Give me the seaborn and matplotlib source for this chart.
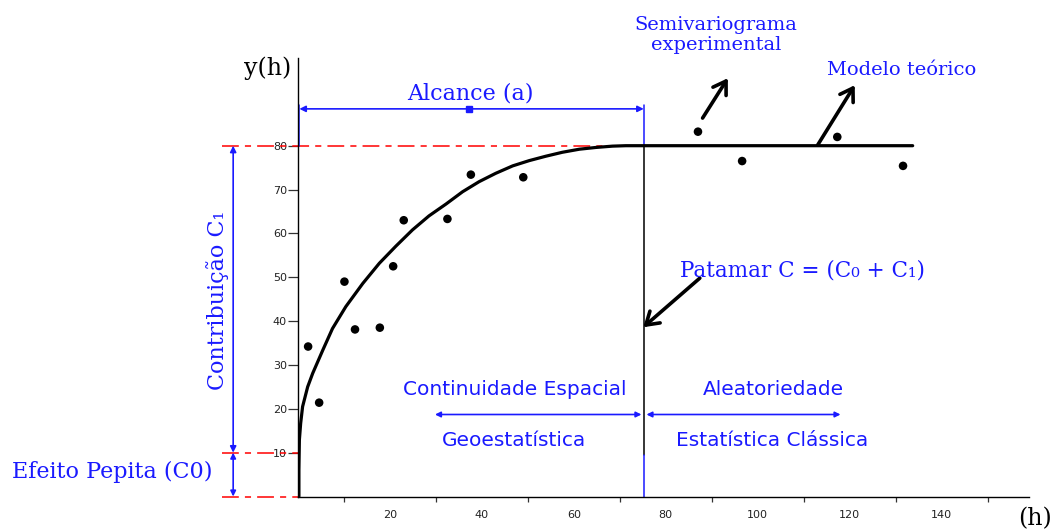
import matplotlib
matplotlib.use("Agg")
import matplotlib.pyplot as plt
import seaborn as sns
import pandas as pd

# Experimental semivariogram (lag h, semivariance)
lag_h = [2.2, 4.6, 10.1, 12.4, 17.8, 20.7, 23.0, 32.5, 37.6, 49.0, 87.0, 96.6, 117.3, 131.6]
gamma_h = [34.2, 21.4, 49.0, 38.1, 38.5, 52.5, 63.0, 63.3, 73.4, 72.8, 83.2, 76.5, 82.0, 75.4]

# Fitted theoretical model, traced as (h, gamma) pairs
model_h = [0.2, 0.2, 0.3, 0.58, 1.0, 2.1, 3.2, 5.4, 7.5, 10.4, 14.1, 17.7, 21.3, 24.9,
           28.5, 32.2, 35.8, 39.4, 43.0, 46.7, 50.3, 53.9, 57.5, 61.2, 64.8, 68.4,
           71.3, 75.2, 133.7]
model_gamma = [0.0, 6.0, 12.9, 16.7, 20.5, 25.0, 28.1, 33.4, 38.3, 43.3, 48.6, 53.2, 57.1, 60.8,
               64.0, 66.7, 69.5, 71.8, 73.7, 75.4, 76.6, 77.6, 78.5, 79.2, 79.6, 79.9,
               80.0, 80.0, 80.0]

# Model parameters
nugget_c0 = 10
sill_c = 80
range_a = 75.2

x_tick_labels = [20, 40, 60, 80, 100, 120, 140]
x_minor_ticks = [10, 30, 50, 70, 90, 110, 130, 150]
y_tick_labels = [10, 20, 30, 40, 50, 60, 70, 80]

BLUE = "#1a1aff"
RED = "#ff0000"
SERIF = ["DejaVu Serif"]
SANS = ["DejaVu Sans"]

sns.set_theme(style="ticks")
plt.rcParams["font.family"] = ["DejaVu Sans"]

fig = plt.figure(figsize=(10.57, 5.30), dpi=100)
ax = fig.add_axes([298 / 1057, 1 - 496.5 / 530, 731 / 1057, 438.5 / 530])

exp_df = pd.DataFrame({"h": lag_h, "gamma": gamma_h})
model_df = pd.DataFrame({"h": model_h, "gamma": model_gamma})

# Reference lines for sill, nugget and origin
dash = (0, (11, 4, 4, 4))
ax.plot([-16.5, 70], [sill_c, sill_c], color=RED, lw=1.1, ls=dash, clip_on=False, zorder=2)
ax.plot([-16.5, 0], [nugget_c0, nugget_c0], color=RED, lw=1.1, ls=dash, clip_on=False, zorder=2)
ax.plot([-16.5, 0], [0, 0], color=RED, lw=1.1, ls=dash, clip_on=False, zorder=2)

sns.lineplot(data=model_df, x="h", y="gamma", sort=False, estimator=None,
             color="black", lw=2.3, ax=ax, zorder=3)
sns.scatterplot(data=exp_df, x="h", y="gamma", color="black", s=38,
                edgecolor="none", ax=ax, zorder=4)

# Range marker line
ax.plot([range_a, range_a], [nugget_c0 - 0.5, sill_c], color="black", lw=1.1, zorder=2)
ax.plot([range_a, range_a], [0, nugget_c0 - 0.5], color=BLUE, lw=1.1, zorder=2)
ax.plot([range_a, range_a], [sill_c, 89.2], color=BLUE, lw=1.1, clip_on=False, zorder=2)
ax.plot([0.3, 0.3], [sill_c, 89.2], color=BLUE, lw=1.1, clip_on=False, zorder=2)

def dim_arrow(x0, y0, x1, y1, scale=9):
    ax.annotate("", xy=(x1, y1), xytext=(x0, y0), annotation_clip=False,
                arrowprops=dict(arrowstyle="<|-|>", color=BLUE, lw=1.2,
                                mutation_scale=scale, shrinkA=0, shrinkB=0))

# Range dimension
dim_arrow(0.3, 88.4, range_a, 88.4)
ax.plot([37.3], [88.4], marker="s", ms=4, color=BLUE, clip_on=False)
ax.text(37.4, 89.5, "Alcance (a)", color=BLUE, fontsize=16, family=SERIF,
        ha="center", va="bottom")

# Contribution and nugget dimensions
dim_arrow(-14.1, nugget_c0, -14.1, sill_c)
dim_arrow(-14.1, 0, -14.1, nugget_c0, scale=8)
ax.text(-17.6, 44.8, "Contribuição C₁", color=BLUE, fontsize=16, family=SERIF,
        rotation=90, ha="center", va="center")
ax.text(-40.4, 5.6, "Efeito Pepita (C0)", color=BLUE, fontsize=16, family=SERIF,
        ha="center", va="center")

# Spatial continuity vs randomness
dim_arrow(29.8, 18.7, 74.7, 18.7, scale=8)
dim_arrow(75.8, 18.7, 118.0, 18.7, scale=8)
ax.text(47.2, 24.3, "Continuidade Espacial", color=BLUE, fontsize=14.5, family=SANS,
        ha="center", va="center")
ax.text(47.0, 12.7, "Geoestatística", color=BLUE, fontsize=14.5, family=SANS,
        ha="center", va="center")
ax.text(103.3, 24.3, "Aleatoriedade", color=BLUE, fontsize=14.5, family=SANS,
        ha="center", va="center")
ax.text(103.2, 12.7, "Estatística Clássica", color=BLUE, fontsize=14.5, family=SANS,
        ha="center", va="center")

# Callouts
pointer = dict(arrowstyle="->,head_length=0.55,head_width=0.35", color="black",
               lw=2.6, mutation_scale=16, shrinkA=0, shrinkB=0)
ax.annotate("", xy=(93.5, 95.4), xytext=(88.0, 86.3), arrowprops=pointer,
            annotation_clip=False)
ax.annotate("", xy=(121.1, 93.8), xytext=(113.0, 80.1), arrowprops=pointer,
            annotation_clip=False)
ax.annotate("", xy=(75.1, 38.6), xytext=(87.4, 49.8), arrowprops=pointer,
            annotation_clip=False)
ax.text(90.9, 105.2, "Semivariograma\nexperimental", color=BLUE, fontsize=14,
        family=SERIF, ha="center", va="center", linespacing=1.15)
ax.text(131.3, 97.2, "Modelo teórico", color=BLUE, fontsize=14, family=SERIF,
        ha="center", va="center")
ax.text(109.8, 51.6, "Patamar C = (C₀ + C₁)", color=BLUE, fontsize=15.5,
        family=SERIF, ha="center", va="center")

# Axis titles
ax.text(-6.5, 97.7, "y(h)", color="black", fontsize=17, family=SERIF,
        ha="center", va="center")
ax.text(160.4, -5.0, "(h)", color="black", fontsize=17, family=SERIF,
        ha="center", va="center")

# Axes styling
ax.set_xlim(0, 159)
ax.set_ylim(0, 100)
ax.set_xlabel("")
ax.set_ylabel("")
for side in ("top", "right"):
    ax.spines[side].set_visible(False)
for side in ("left", "bottom"):
    ax.spines[side].set_color("black")
    ax.spines[side].set_linewidth(1.0)

ax.set_xticks(x_tick_labels)
ax.set_xticklabels([str(v) for v in x_tick_labels])
ax.set_xticks(x_minor_ticks, minor=True)
ax.tick_params(axis="x", which="major", length=0, pad=10, labelsize=8, labelcolor="#222222")
ax.tick_params(axis="x", which="minor", length=3.6, width=0.9, color="#333333", direction="out")
ax.set_yticks(y_tick_labels)
ax.set_yticklabels([str(v) for v in y_tick_labels])
ax.tick_params(axis="y", which="major", length=7, width=0.9, pad=1, labelsize=8,
               labelcolor="#222222", color="#333333", direction="out")
ax.grid(False)

fig.savefig("out.png", dpi=100)
